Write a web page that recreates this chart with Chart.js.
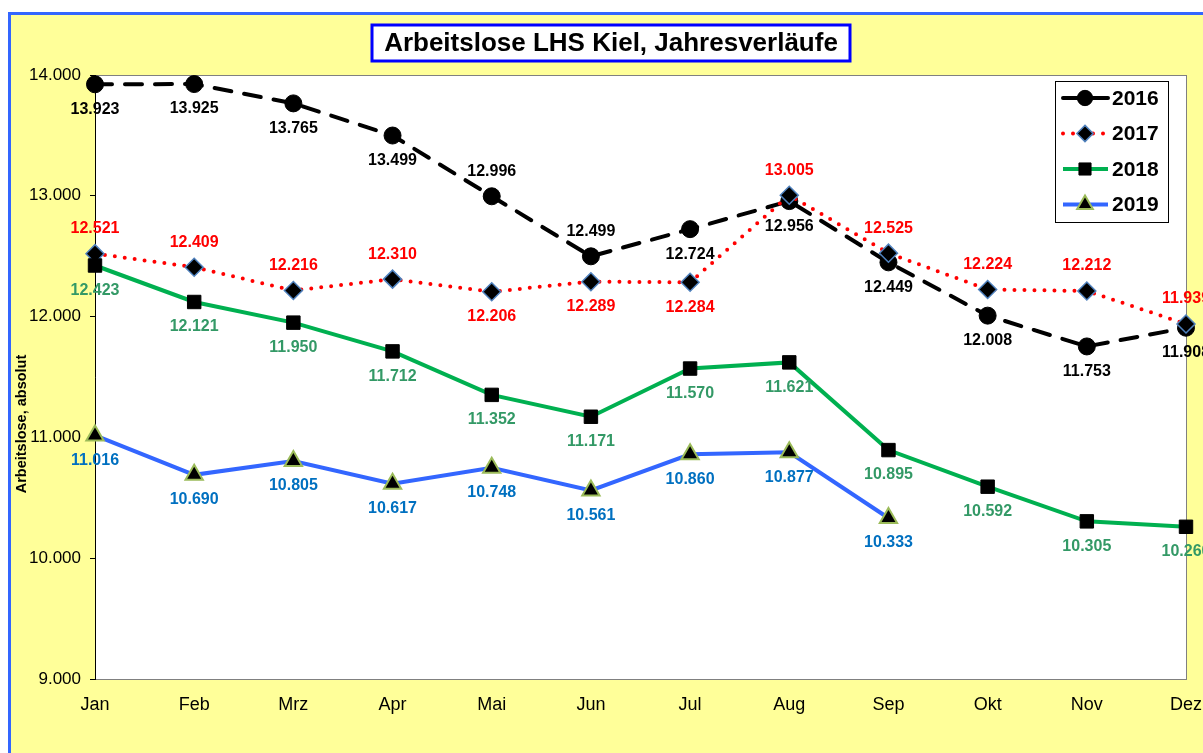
<!DOCTYPE html>
<html>
<head>
<meta charset="utf-8">
<script src="https://cdn.jsdelivr.net/npm/chart.js"></script>
<style>
    body { margin: 0; background: #fff; overflow: hidden; }
    #frame { position: absolute; left: 8px; top: 12px; width: 1300px; height: 800px; background: #ffff99; border-left: 3px solid #3366ff; border-top: 3px solid #3366ff; }
    #chart { position: absolute; left: 0; top: 0; }
</style>
</head>
<body>
<div id="frame"></div>
<canvas id="chart" width="1240" height="753"></canvas>
<script>
// Arbeitslose LHS Kiel, monthly values per year
const months = ['Jan', 'Feb', 'Mrz', 'Apr', 'Mai', 'Jun', 'Jul', 'Aug', 'Sep', 'Okt', 'Nov', 'Dez'];
const years = ['2016', '2017', '2018', '2019'];
const values2016 = [13923, 13925, 13765, 13499, 12996, 12499, 12724, 12956, 12449, 12008, 11753, 11908];
const values2017 = [12521, 12409, 12216, 12310, 12206, 12289, 12284, 13005, 12525, 12224, 12212, 11939];
const values2018 = [12423, 12121, 11950, 11712, 11352, 11171, 11570, 11621, 10895, 10592, 10305, 10260];
const values2019 = [11016, 10690, 10805, 10617, 10748, 10561, 10860, 10877, 10333];
const yTicks = [9000, 10000, 11000, 12000, 13000, 14000];

const FONT = 'Arial, "Liberation Sans", sans-serif';

function fmt(v) {
    return String(v).replace(/\B(?=(\d{3})+(?!\d))/g, '.');
}

// label placement: 1 = below the point, -1 = above
const series = [
    { label: years[0], data: values2016, color: '#000000', text: '#000000', dash: [17, 13], cap: 'round',
      point: 'circle', radius: 8.5, pBorder: '#000000', pBorderW: 1, side: [1, 1, 1, 1, -1, -1, 1, 1, 1, 1, 1, 1] },
    { label: years[1], data: values2017, color: '#ff0000', text: '#ff0000', dash: [0, 10], cap: 'round',
      point: 'rectRot', radius: 9, pBorder: '#4f81bd', pBorderW: 1.5, side: [-1, -1, -1, -1, 1, 1, 1, -1, -1, -1, -1, -1] },
    { label: years[2], data: values2018, color: '#00b050', text: '#339966', dash: [], cap: 'butt',
      point: 'rect', radius: 9.5, pBorder: '#000000', pBorderW: 1, side: [1, 1, 1, 1, 1, 1, 1, 1, 1, 1, 1, 1] },
    { label: years[3], data: values2019, color: '#3366ff', text: '#0070c0', dash: [], cap: 'butt',
      point: 'triangle', radius: 10, pBorder: '#9bbb59', pBorderW: 2, side: [1, 1, 1, 1, 1, 1, 1, 1, 1] }
];

const datasets = series.map((s, i) => ({
    label: s.label,
    data: s.data,
    borderColor: s.color,
    borderWidth: 4,
    borderDash: s.dash,
    borderCapStyle: s.cap,
    pointStyle: s.point,
    pointRadius: s.radius,
    pointBackgroundColor: '#000000',
    pointBorderColor: s.pBorder,
    pointBorderWidth: s.pBorderW,
    tension: 0,
    fill: false,
    clip: false,
    order: series.length - i
}));

function drawMarker(ctx, s, x, y) {
    const r = s.radius;
    ctx.save();
    ctx.fillStyle = '#000000';
    ctx.strokeStyle = s.pBorder;
    ctx.lineWidth = s.pBorderW;
    ctx.setLineDash([]);
    ctx.beginPath();
    if (s.point === 'circle') {
        ctx.arc(x, y, r, 0, Math.PI * 2);
    } else if (s.point === 'rectRot') {
        ctx.moveTo(x, y - r); ctx.lineTo(x + r, y); ctx.lineTo(x, y + r); ctx.lineTo(x - r, y);
    } else if (s.point === 'rect') {
        const h = r * Math.SQRT1_2;
        ctx.rect(x - h, y - h, h * 2, h * 2);
    } else {
        ctx.moveTo(x, y - r); ctx.lineTo(x + r * 0.87, y + r * 0.5); ctx.lineTo(x - r * 0.87, y + r * 0.5);
    }
    ctx.closePath();
    ctx.fill();
    ctx.stroke();
    ctx.restore();
}

const decorPlugin = {
    id: 'decor',
    beforeDraw(chart) {
        const { ctx, chartArea: a } = chart;
        ctx.save();
        ctx.fillStyle = '#ffffff';
        ctx.fillRect(a.left, a.top, a.right - a.left, a.bottom - a.top);
        ctx.strokeStyle = '#808080';
        ctx.lineWidth = 1;
        ctx.strokeRect(a.left + 0.5, a.top + 0.5, a.right - a.left, a.bottom - a.top);
        // y axis title
        ctx.translate(22, 424);
        ctx.rotate(-Math.PI / 2);
        ctx.fillStyle = '#000000';
        ctx.font = 'bold 14.5px ' + FONT;
        ctx.textAlign = 'center';
        ctx.textBaseline = 'middle';
        ctx.fillText('Arbeitslose, absolut', 0, 0);
        ctx.restore();
    },
    afterDatasetsDraw(chart) {
        const { ctx } = chart;
        ctx.save();
        ctx.font = 'bold 16px ' + FONT;
        ctx.textAlign = 'center';
        ctx.textBaseline = 'middle';
        series.forEach((s, i) => {
            const meta = chart.getDatasetMeta(i);
            ctx.fillStyle = s.text;
            meta.data.forEach((pt, j) => {
                ctx.fillText(fmt(s.data[j]), pt.x, pt.y + s.side[j] * 25);
            });
        });
        ctx.restore();
    },
    afterDraw(chart) {
        const { ctx } = chart;
        ctx.save();
        // title box
        ctx.fillStyle = '#ffffff';
        ctx.fillRect(372, 25, 478, 36);
        ctx.strokeStyle = '#0000ff';
        ctx.lineWidth = 3;
        ctx.strokeRect(372, 25, 478, 36);
        ctx.fillStyle = '#000000';
        ctx.font = 'bold 26px ' + FONT;
        ctx.textAlign = 'center';
        ctx.textBaseline = 'middle';
        ctx.fillText('Arbeitslose LHS Kiel, Jahresverläufe', 611, 44);
        // legend box
        ctx.fillStyle = '#ffffff';
        ctx.fillRect(1055, 81, 113, 141);
        ctx.strokeStyle = '#000000';
        ctx.lineWidth = 1;
        ctx.strokeRect(1055.5, 81.5, 113, 141);
        ctx.font = 'bold 21px ' + FONT;
        ctx.textAlign = 'left';
        series.forEach((s, i) => {
            const y = 98 + i * 35.5;
            ctx.save();
            ctx.strokeStyle = s.color;
            ctx.lineWidth = 4;
            ctx.lineCap = s.cap;
            ctx.setLineDash(s.dash);
            ctx.beginPath();
            ctx.moveTo(1063, y);
            ctx.lineTo(1108, y);
            ctx.stroke();
            ctx.restore();
            drawMarker(ctx, Object.assign({}, s, { radius: s.radius * 0.9 }), 1085, y);
            ctx.fillStyle = '#000000';
            ctx.fillText(s.label, 1112, y + 1);
        });
        ctx.restore();
    }
};

const ctx = document.getElementById('chart').getContext('2d');
new Chart(ctx, {
    type: 'line',
    data: { labels: months, datasets: datasets },
    options: {
        responsive: false,
        animation: false,
        layout: { padding: { top: 75, right: 54, left: 0, bottom: 0 } },
        plugins: { legend: { display: false }, title: { display: false }, tooltip: { enabled: false } },
        scales: {
            x: {
                grid: { display: false, drawTicks: false },
                border: { color: '#808080', width: 1 },
                ticks: { color: '#000000', padding: 15, maxRotation: 0, autoSkip: false,
                         font: { family: FONT, size: 18 } },
                afterFit(scale) { scale.height = 74; }
            },
            y: {
                min: yTicks[0],
                max: yTicks[yTicks.length - 1],
                afterBuildTicks(scale) { scale.ticks = yTicks.map(v => ({ value: v })); },
                grid: { drawOnChartArea: false, drawTicks: true, tickLength: 5, color: '#000000' },
                border: { color: '#000000', width: 1 },
                ticks: { color: '#000000', padding: 9, callback: v => fmt(v),
                         font: { family: FONT, size: 17 } },
                afterFit(scale) { scale.width = 95; }
            }
        }
    },
    plugins: [decorPlugin]
});
</script>
</body>
</html>
